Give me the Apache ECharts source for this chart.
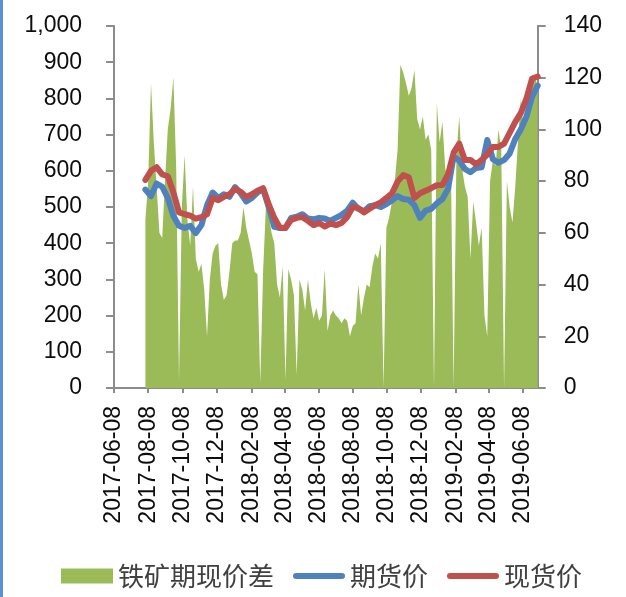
<!DOCTYPE html>
<html>
<head>
<meta charset="utf-8">
<script src="https://cdn.jsdelivr.net/npm/echarts@6/dist/echarts.min.js"></script>
<style>
  html, body { margin: 0; padding: 0; background: #fff; }
  #chart { width: 626px; height: 597px; }
</style>
</head>
<body>
<div id="chart"></div>
<script>
// axis runs day by day from the first tick to the last sample
const axisStart = '2017-06-08'
const axisEnd = '2019-07-04'

// basis (right axis) sampled every 5 days from 2017-08-03
const basisStart = '2017-08-03'
const basisStep = 5
const basisValues = [
  65, 80, 118, 95, 78, 60, 58, 80, 100, 108,
  120, 85, 3, 70, 90, 65, 55, 78, 50, 45,
  48, 38, 20, 42, 52, 55, 56, 40, 34, 36,
  45, 56, 57, 57, 60, 70, 62, 57, 52, 45,
  44, 2, 45, 70, 68, 60, 56, 40, 35, 47,
  3, 46, 42, 36, 5, 42, 38, 30, 42, 33,
  27, 31, 26, 28, 46, 22, 28, 30, 28, 27,
  25, 27, 26, 20, 24, 25, 40, 28, 35, 40,
  39, 47, 52, 50, 56, 0, 62, 66, 72, 80,
  92, 125, 122, 118, 113, 116, 123, 104, 100, 105,
  96, 98, 92, 0, 110, 95, 103, 85, 80, 88,
  0, 90, 105, 85, 78, 74, 50, 72, 64, 55,
  62, 28, 20, 80, 88, 86, 100, 92, 0, 80,
  70, 64, 78, 96, 112, 100, 108, 112, 118, 121,
  116
]

// prices (left axis) sampled every 10 days from 2017-08-03
const priceStart = '2017-08-03'
const priceStep = 10
const futuresValues = [
  548, 530, 565, 556, 525, 475, 448, 442, 448, 428,
  450, 505, 540, 525, 535, 528, 555, 538, 515, 525,
  540, 550, 500, 445, 442, 442, 470, 473, 480, 468,
  466, 470, 468, 462, 470, 478, 490, 512, 495, 488,
  502, 505, 500, 508, 518, 530, 522, 520, 505, 470,
  490, 495, 510, 522, 550, 640, 628, 605, 596, 608,
  610, 685, 632, 622, 630, 648, 688, 715, 750, 805,
  835
]
const spotValues = [
  575, 600, 610, 590, 585, 540, 485, 480, 476, 468,
  472, 480, 525, 519, 528, 535, 550, 542, 528, 535,
  545, 552, 508, 470, 443, 443, 464, 470, 472, 462,
  450, 456, 446, 455, 450, 456, 472, 500, 497, 485,
  495, 505, 513, 525, 538, 570, 588, 582, 525, 538,
  545, 552, 560, 561, 590, 650, 675, 630, 630, 618,
  630, 645, 666, 666, 675, 705, 735, 760, 800, 855,
  860
]

const seriesNames = ['铁矿期现价差', '期货价', '现货价']

const DAY = 86400000
const toStr = (t) => new Date(t).toISOString().slice(0, 10)
const toTime = (s) => Date.parse(s + 'T00:00:00Z')

const days = []
for (let t = toTime(axisStart); t <= toTime(axisEnd); t += DAY) days.push(toStr(t))

const pairs = (start, step, values) =>
  values.map((v, i) => [toStr(toTime(start) + i * step * DAY), v])

const isTickDay = (idx, val) => val.slice(8) === '08' && Number(val.slice(5, 7)) % 2 === 0

const axisColor = '#8c8c8c'
const labelFont = { color: '#0d0d0d', fontSize: 23, fontFamily: '"Liberation Sans", Arial, sans-serif' }
const lineIcon = 'path://M3,0 L49,0 A3,3 0 0 1 49,6 L3,6 A3,3 0 0 1 3,0 Z'

const chart = echarts.init(document.getElementById('chart'))

chart.setOption({
  backgroundColor: '#fff',
  animation: false,
  graphic: [
    { type: 'rect', left: 0, top: 0, shape: { width: 3, height: 597 }, style: { fill: '#5a8fd6' } }
  ],
  grid: { left: 114, right: 88.3, top: 26, bottom: 209 },
  legend: {
    left: 56,
    top: 556,
    itemWidth: 52,
    itemHeight: 15,
    itemGap: 19,
    textStyle: { color: '#404040', fontSize: 26, lineHeight: 30, fontFamily: '"Noto Sans CJK SC", sans-serif' },
    data: [
      { name: seriesNames[0], icon: 'rect' },
      { name: seriesNames[1], icon: lineIcon },
      { name: seriesNames[2], icon: lineIcon }
    ]
  },
  xAxis: {
    type: 'category',
    data: days,
    boundaryGap: false,
    axisLine: { lineStyle: { color: axisColor, width: 2 } },
    axisTick: { interval: isTickDay, length: 5, lineStyle: { color: axisColor, width: 2 } },
    axisLabel: { ...labelFont, interval: isTickDay, rotate: 90, margin: 18 }
  },
  yAxis: [
    {
      type: 'value',
      min: 0,
      max: 1000,
      interval: 100,
      splitLine: { show: false },
      axisLine: { show: true, lineStyle: { color: axisColor, width: 2 } },
      axisTick: { show: true, length: 8, lineStyle: { color: axisColor, width: 2 } },
      axisLabel: { ...labelFont, margin: 32, formatter: (v) => v.toLocaleString('en-US') }
    },
    {
      type: 'value',
      min: 0,
      max: 140,
      interval: 20,
      position: 'right',
      splitLine: { show: false },
      axisLine: { show: true, lineStyle: { color: axisColor, width: 2 } },
      axisTick: { show: true, length: 8, lineStyle: { color: axisColor, width: 2 } },
      axisLabel: { ...labelFont, margin: 26 }
    }
  ],
  series: [
    {
      name: seriesNames[0],
      type: 'line',
      yAxisIndex: 1,
      data: pairs(basisStart, basisStep, basisValues),
      showSymbol: false,
      lineStyle: { width: 0 },
      itemStyle: { color: '#9bbb59' },
      areaStyle: { color: '#9bbb59', opacity: 1 },
      z: 1
    },
    {
      name: seriesNames[1],
      type: 'line',
      data: pairs(priceStart, priceStep, futuresValues),
      showSymbol: false,
      lineStyle: { width: 6, color: '#4f81bd', cap: 'round', join: 'round' },
      itemStyle: { color: '#4f81bd' },
      z: 2
    },
    {
      name: seriesNames[2],
      type: 'line',
      data: pairs(priceStart, priceStep, spotValues),
      showSymbol: false,
      lineStyle: { width: 6, color: '#c0504d', cap: 'round', join: 'round' },
      itemStyle: { color: '#c0504d' },
      z: 3
    }
  ]
})
</script>
</body>
</html>
